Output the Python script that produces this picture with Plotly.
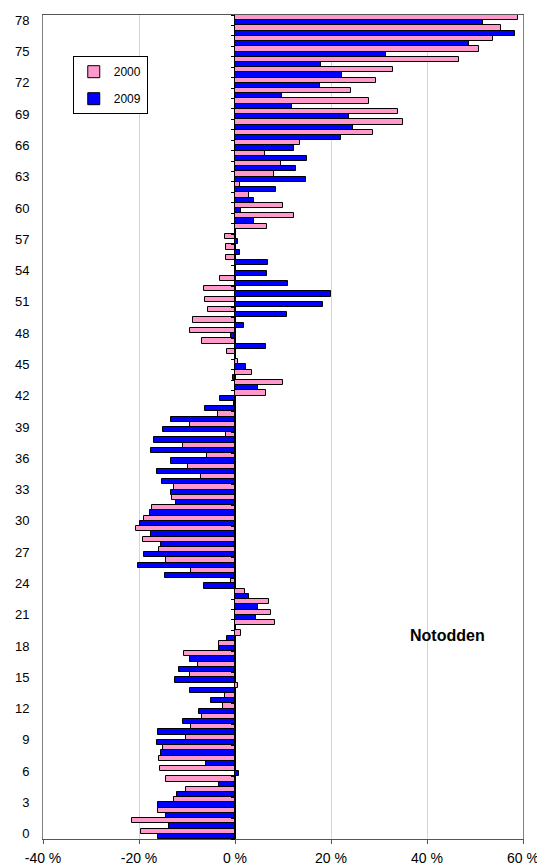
import plotly.graph_objects as go

ages = list(range(0, 79))

# Population change (%) per age
values_2000 = [
    -19.5, -21.4, -16.0, -12.8, -10.3, -14.3, -15.7, -15.9, -14.9, -10.2,
    -9.2, -6.9, -2.5, -2.1, 0.6, -9.4, -7.7, -10.6, -3.4, 1.2,
    8.4, 7.5, 7.0, 2.1, -0.8, -9.2, -14.3, -15.8, -19.2, -20.6,
    -18.9, -17.2, -13.1, -12.8, -7.1, -9.7, -5.9, -10.8, -1.9, -9.4,
    -3.6, -0.2, 6.5, 10.0, 3.6, 0.7, -1.6, -6.8, -9.4, -8.8,
    -5.6, -6.2, -6.5, -3.1, 0.2, -1.9, -1.8, -2.0, 6.7, 12.2,
    10.1, 2.9, 1.0, 8.1, 9.6, 6.3, 13.6, 28.8, 35.1, 34.0,
    27.9, 24.2, 29.4, 32.9, 46.6, 50.9, 53.8, 55.5, 59.0,
]
values_2009 = [
    -16.0, -13.8, -14.3, -16.0, -12.1, -3.4, 0.9, -6.1, -15.4, -16.3,
    -16.0, -10.8, -7.4, -5.1, -9.4, -12.6, -11.7, -9.4, -3.4, -1.7,
    0.3, 4.3, 4.7, 3.0, -6.5, -14.6, -20.3, -18.9, -15.5, -17.5,
    -19.7, -17.7, -12.3, -13.4, -15.2, -16.3, -13.4, -17.4, -16.8, -14.9,
    -13.4, -6.2, -3.1, 4.8, -0.4, 2.2, 0.3, 6.5, -0.8, 1.9,
    10.8, 18.3, 20.1, 11.0, 6.7, 6.8, 1.0, 0.6, 0.3, 3.9,
    1.2, 3.9, 8.5, 14.8, 12.8, 15.1, 12.3, 22.0, 24.6, 23.7,
    11.9, 9.7, 17.7, 22.3, 17.9, 31.4, 48.7, 58.4, 51.6,
]

y_tick_vals = list(range(0, 79, 3))
y_tick_labels = [str(v) for v in y_tick_vals]
x_tick_vals = [-40, -20, 0, 20, 40, 60]
x_tick_labels = ["-40 %", "-20 %", "0 %", "20 %", "40 %", "60 %"]
boundaries = [a - 0.5 for a in ages] + [78.5]

FONT = "Liberation Sans, Arial, sans-serif"

fig = go.Figure()
# 2009 first so that it sits at the bottom of each age group
fig.add_trace(go.Bar(
    x=values_2009, y=ages, orientation="h", name="2009",
    marker=dict(color="#0000ff", line=dict(color="#000000", width=1)),
    legendrank=2, legendgroup="b",
))
fig.add_trace(go.Bar(
    x=values_2000, y=ages, orientation="h", name="2000",
    marker=dict(color="#ff99cc", line=dict(color="#000000", width=1)),
    legendrank=1, legendgroup="a",
))
# invisible helper trace carrying the category-axis tick marks at x = 0
fig.add_trace(go.Scatter(
    x=[None], y=[None], yaxis="y2", showlegend=False, hoverinfo="skip",
))

# the page body adds an 8 px offset, so the figure is 8 px smaller
fig.update_layout(
    width=537, height=859,
    margin=dict(l=35, r=22, t=7, b=28, autoexpand=False),
    paper_bgcolor="white", plot_bgcolor="white",
    font=dict(family=FONT, size=13, color="#000000"),
    barmode="group", bargap=0.0, bargroupgap=0.0,
    xaxis=dict(
        range=[-40, 60], tickvals=x_tick_vals, ticktext=x_tick_labels,
        showgrid=True, gridcolor="#d2d2f7", gridwidth=1,
        zeroline=True, zerolinecolor="#000000", zerolinewidth=2,
        showline=True, linecolor="#555555", linewidth=1, mirror=True,
        ticks="outside", ticklen=4, tickcolor="#555555",
        ticklabelstandoff=2,
        tickfont=dict(family=FONT, size=14), automargin=False,
    ),
    yaxis=dict(
        range=[-0.5, 78.5], tickvals=y_tick_vals, ticktext=y_tick_labels,
        showgrid=False, zeroline=False,
        showline=True, linecolor="#808080", linewidth=1, mirror=True,
        ticks="", ticklabelstandoff=10,
        tickfont=dict(family=FONT, size=13), automargin=False,
    ),
    yaxis2=dict(
        range=[-0.5, 78.5], overlaying="y", anchor="free", position=0.4,
        side="left", tickvals=boundaries, ticks="outside", ticklen=4,
        tickcolor="#000000", showticklabels=False, showgrid=False,
        zeroline=False, showline=False, automargin=False,
    ),
    legend=dict(
        x=0.062, y=0.950, xanchor="left", yanchor="top",
        bordercolor="#000000", borderwidth=1, bgcolor="white",
        font=dict(family=FONT, size=12), traceorder="grouped",
        tracegroupgap=8, itemwidth=30,
    ),
    showlegend=True,
    annotations=[dict(
        text="<b>Notodden</b>", xref="x", yref="y",
        x=44.2, y=19.0, showarrow=False,
        font=dict(family=FONT, size=16, color="#000000"),
    )],
)

fig.write_html("out.html")
